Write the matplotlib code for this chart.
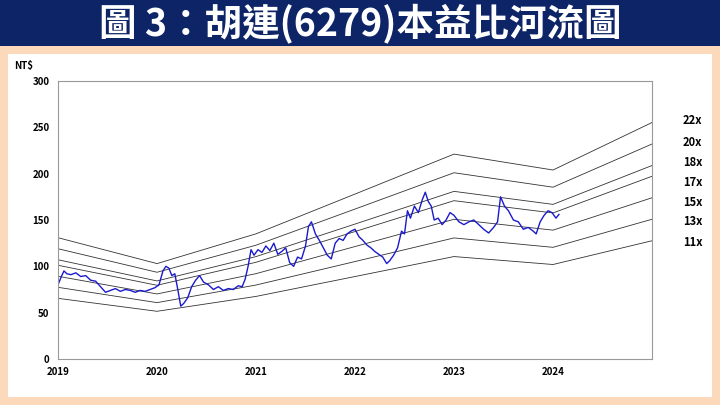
import matplotlib.pyplot as plt
from matplotlib.patches import Rectangle

plt.rcParams['font.family'] = ['Noto Sans CJK TC', 'DejaVu Sans']

# EPS basis at year marks (band line = multiple * eps)
band_years = [2019, 2020, 2021, 2022, 2023, 2024, 2025]
band_eps = [5.95, 4.68, 6.14, 8.09, 10.05, 9.27, 11.6]
multiples = [22, 20, 18, 17, 15, 13, 11]
mult_label_y = [120, 143, 163, 182, 203, 221, 243]  # pixel rows of right labels

# price (date as decimal year, close)
px_t = [2019.00, 2019.03, 2019.06, 2019.09, 2019.13, 2019.18, 2019.23, 2019.28, 2019.33,
        2019.38, 2019.43, 2019.48, 2019.53, 2019.58, 2019.63, 2019.68, 2019.73, 2019.78,
        2019.83, 2019.88, 2019.93, 2019.98, 2020.02, 2020.06, 2020.09, 2020.12, 2020.15,
        2020.18, 2020.21, 2020.24, 2020.27, 2020.31, 2020.35, 2020.39, 2020.43, 2020.47,
        2020.52, 2020.57, 2020.62, 2020.67, 2020.72, 2020.77, 2020.82, 2020.86, 2020.89,
        2020.92, 2020.95, 2020.98, 2021.02, 2021.06, 2021.10, 2021.14, 2021.18, 2021.22,
        2021.26, 2021.30, 2021.34, 2021.38, 2021.42, 2021.46, 2021.50, 2021.53, 2021.56,
        2021.60, 2021.64, 2021.68, 2021.72, 2021.76, 2021.80, 2021.84, 2021.88, 2021.92,
        2021.96, 2022.00, 2022.04, 2022.08, 2022.12, 2022.16, 2022.20, 2022.24, 2022.28,
        2022.32, 2022.35, 2022.39, 2022.43, 2022.47, 2022.50, 2022.53, 2022.56, 2022.60,
        2022.64, 2022.68, 2022.71, 2022.74, 2022.77, 2022.80, 2022.84, 2022.88, 2022.92,
        2022.96, 2023.00, 2023.05, 2023.10, 2023.15, 2023.20, 2023.25, 2023.30, 2023.35,
        2023.40, 2023.44, 2023.47, 2023.51, 2023.55, 2023.60, 2023.65, 2023.70, 2023.75,
        2023.80, 2023.83, 2023.87, 2023.91, 2023.95, 2023.99, 2024.03, 2024.06]
px_v = [80, 88, 95, 92, 91, 93, 89, 90, 85,
        84, 78, 72, 74, 76, 73, 75, 74, 72,
        74, 73, 75, 77, 80, 95, 100, 98, 90,
        92, 75, 57, 60, 66, 78, 85, 90, 83,
        80, 75, 78, 74, 76, 75, 79, 78, 86,
        100, 118, 112, 118, 115, 122, 117, 125, 113,
        116, 120, 104, 100, 110, 108, 122, 143, 148,
        135, 128, 120, 112, 108, 125, 130, 128, 135,
        138, 140, 132, 128, 123, 120, 116, 113, 110,
        103, 106, 112, 120, 138, 135, 160, 152, 165,
        158, 172, 180, 170, 165, 150, 152, 145, 150,
        158, 155, 148, 145, 148, 150, 145, 140, 136,
        142, 148, 175, 165, 160, 150, 148, 140, 142,
        138, 135, 148, 155, 160, 158, 152, 156]

fig = plt.figure(figsize=(7.2, 4.05), dpi=100)
fig.patch.set_facecolor('#fdd9bc')
fig.patches.append(Rectangle((0, 1 - 46/405), 1, 46/405, transform=fig.transFigure,
                             facecolor='#0d2466', edgecolor='none', zorder=-2))
fig.patches.append(Rectangle((8/720, 8/405), 704/720, (405-54-8)/405, transform=fig.transFigure,
                             facecolor='white', edgecolor='none', zorder=-2))
fig.text(0.5, 1 - 23/405, '圖 3：胡連(6279)本益比河流圖', ha='center', va='center',
         color='white', fontsize=27, fontweight='bold')

ax = fig.add_axes([58/720, 1 - 359/405, (652-58)/720, (359-81)/405])
ax.set_zorder(1)
ax.patch.set_alpha(0)
for m in multiples:
    ax.plot(band_years, [e * m for e in band_eps], color='#333333', linewidth=0.6)
ax.plot(px_t, px_v, color='#1a1acc', linewidth=1.0)

ax.set_xlim(2019, 2025)
ax.set_ylim(0, 300)
ax.set_xticks([2019, 2020, 2021, 2022, 2023, 2024])
ax.set_yticks(range(0, 301, 50))
ax.tick_params(labelsize=7, length=0, pad=6)
for lab in ax.get_xticklabels() + ax.get_yticklabels():
    lab.set_fontweight('bold')
for s in ax.spines.values():
    s.set_color('#999999')
    s.set_linewidth(0.8)

fig.text(14/720, 1 - 66/405, 'NT$', fontsize=7, fontweight='bold', va='center')
for m, yp in zip(multiples, mult_label_y):
    fig.text(683/720, 1 - yp/405, f'{m}x', fontsize=8, fontweight='bold', va='center')

fig.savefig('out.png', dpi=100, facecolor=fig.get_facecolor())
